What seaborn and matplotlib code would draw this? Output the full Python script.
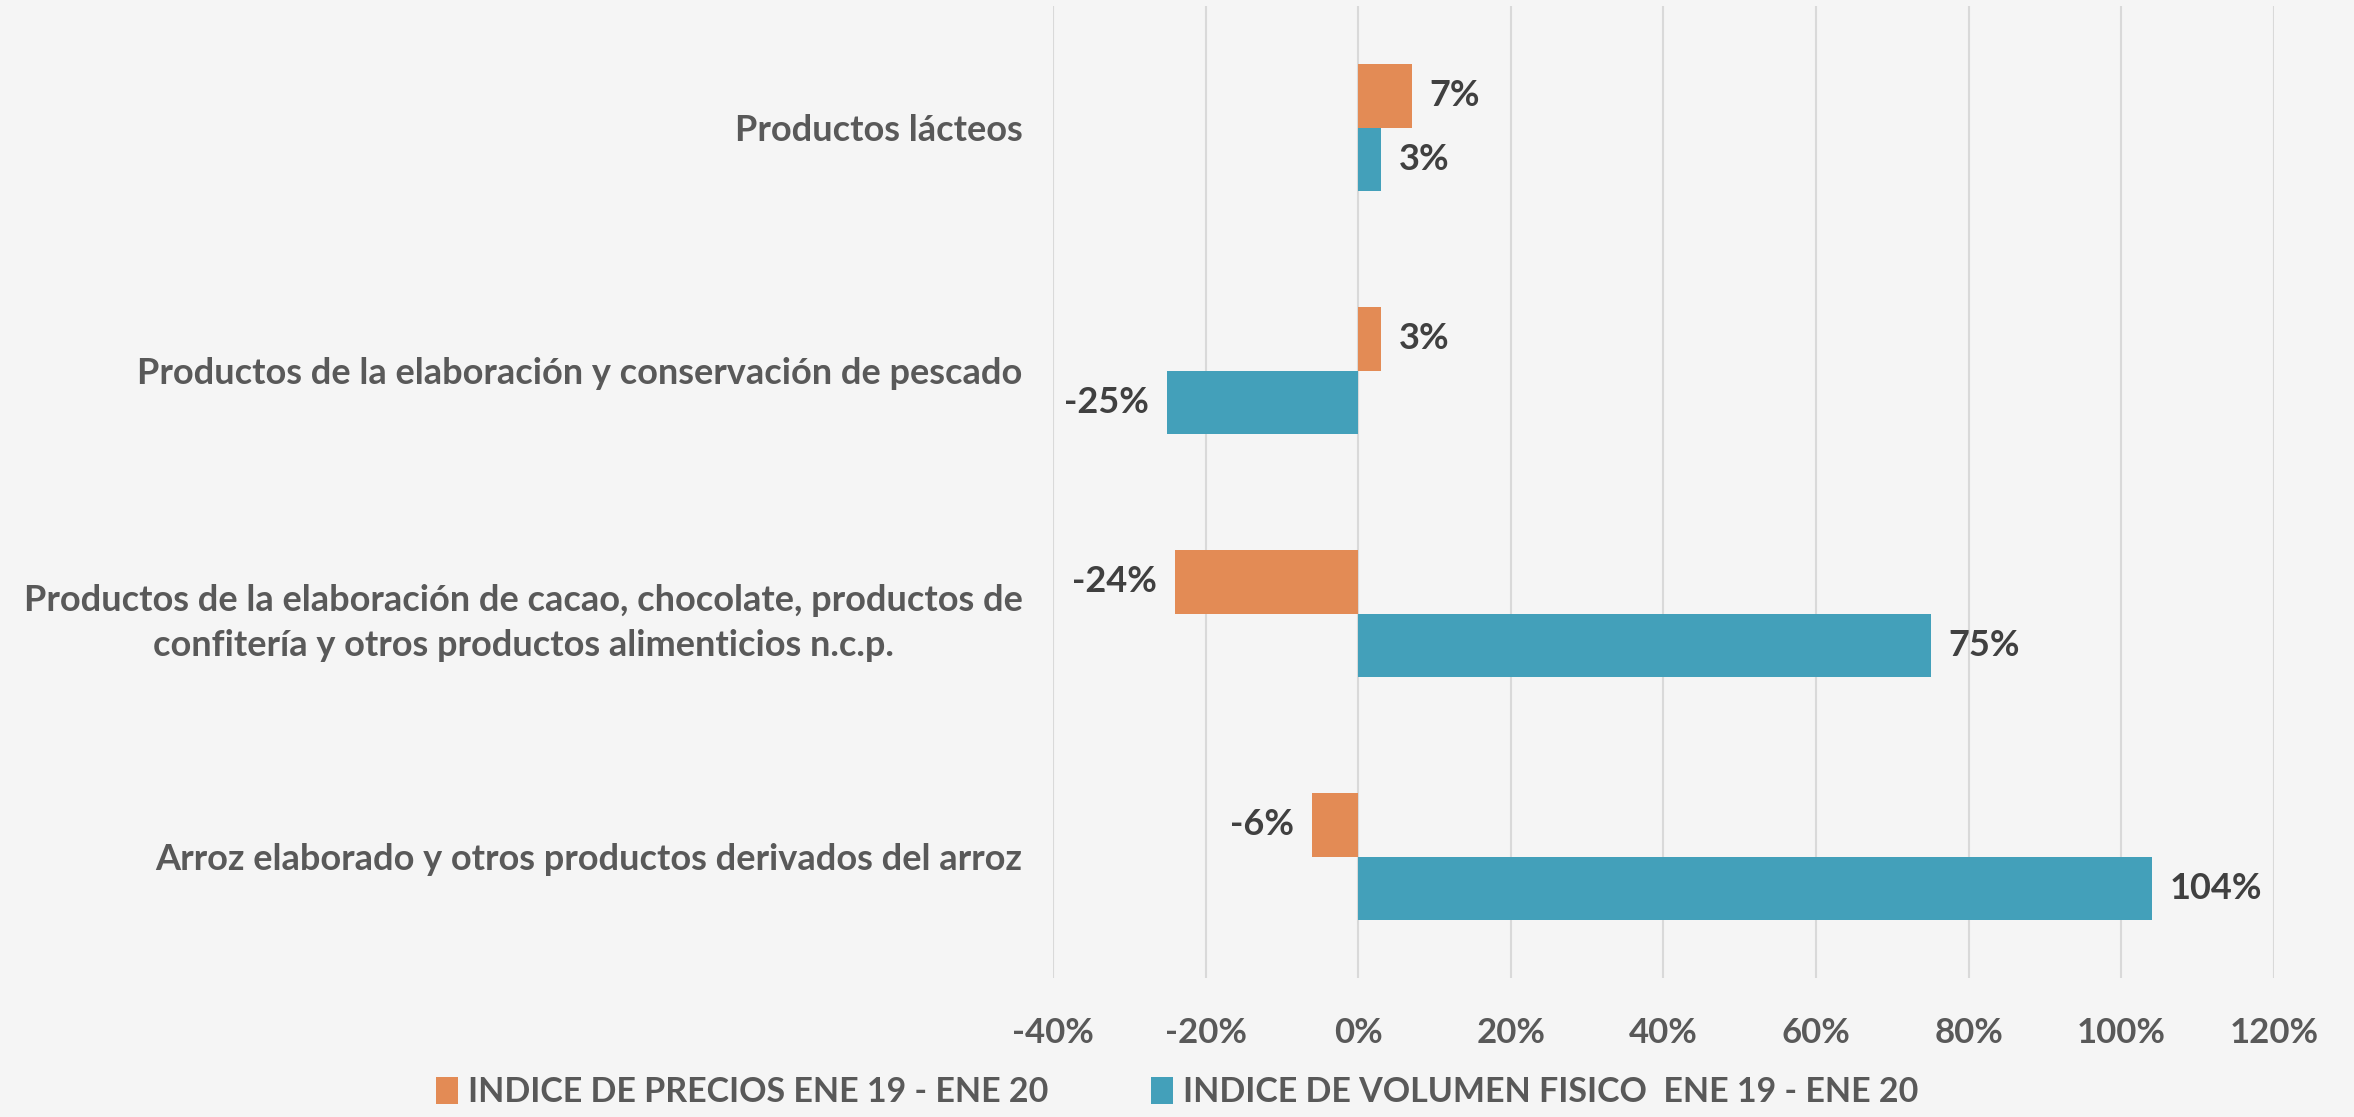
import matplotlib
matplotlib.use("Agg")
import matplotlib.pyplot as plt
import seaborn as sns
import pandas as pd
from matplotlib.patches import Patch

categories = [
    "Productos lácteos",
    "Productos de la elaboración y conservación de pescado",
    "Productos de la elaboración de cacao, chocolate, productos de\nconfitería y otros productos alimenticios n.c.p.",
    "Arroz elaborado y otros productos derivados del arroz",
]
series_names = ["INDICE DE PRECIOS ENE 19 - ENE 20", "INDICE DE VOLUMEN FISICO  ENE 19 - ENE 20"]
precios = [7, 3, -24, -6]
volumen = [3, -25, 75, 104]
xticks = [-40, -20, 0, 20, 40, 60, 80, 100, 120]
colors = ["#E38B55", "#43A0BA"]

df = pd.DataFrame({
    "cat": categories * 2,
    "serie": [series_names[0]] * 4 + [series_names[1]] * 4,
    "val": precios + volumen,
})

sns.set_theme(style="white")
plt.rcParams["font.family"] = ["Lato", "DejaVu Sans"]
plt.rcParams["font.weight"] = "bold"

fig = plt.figure(figsize=(23.54, 11.17), dpi=100, facecolor="#F5F5F5")
ax = fig.add_axes([0.4473, 0.1244, 0.5187, 0.8702])
ax.set_facecolor("#F5F5F5")

sns.barplot(data=df, y="cat", x="val", hue="serie", order=categories,
            hue_order=series_names, palette=colors, orient="h", width=0.52,
            ax=ax, legend=False, saturation=1, edgecolor="none")

for cont, vals in zip(ax.containers, [precios, volumen]):
    ax.bar_label(cont, labels=[f"{v}%" for v in vals], padding=13,
                 fontsize=26, fontweight="bold", color="#404040")

ax.set_xlim(-40, 120)
ax.set_ylim(3.5, -0.5)
ax.set_xticks(xticks)
ax.set_xticklabels([f"{t}%" for t in xticks])
ax.xaxis.grid(True, color="#D9D9D9", linewidth=1.5)
ax.set_axisbelow(True)
for s in ax.spines.values():
    s.set_visible(False)
ax.set_xlabel("")
ax.set_ylabel("")
ax.tick_params(axis="x", length=0, pad=28, labelsize=25, labelcolor="#595959")
ax.tick_params(axis="y", length=0, pad=22, labelsize=26, labelcolor="#595959")
for lab in ax.get_yticklabels():
    lab.set_multialignment("center")
    lab.set_linespacing(1.45)
    lab.set_fontweight("bold")
for lab in ax.get_xticklabels():
    lab.set_fontweight("bold")

handles = [Patch(facecolor=c, edgecolor="none") for c in colors]
leg = fig.legend(handles, series_names, loc="center", bbox_to_anchor=(0.5, 0.022),
                 ncol=2, frameon=False, fontsize=24.5, handlelength=0.65, handleheight=0.85,
                 handletextpad=0.3, columnspacing=3.0, labelcolor="#595959")
for t in leg.get_texts():
    t.set_fontweight("bold")

fig.savefig("out.png", dpi=100, facecolor=fig.get_facecolor())
